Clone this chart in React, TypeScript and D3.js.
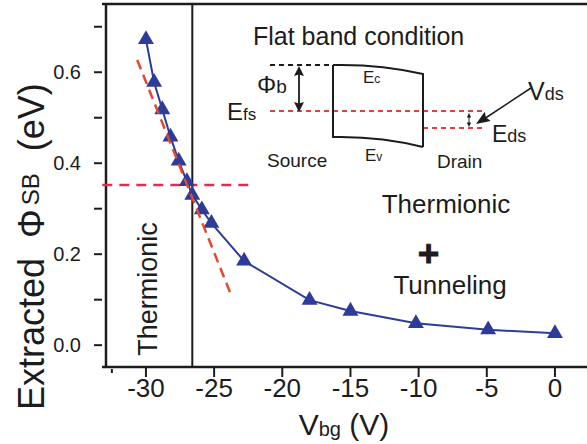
import React from "react";
import * as d3 from "d3";

// Back-gate sweep and extracted Schottky barrier height
const vbg = [-30, -29.4, -28.8, -28.2, -27.6, -27.0, -26.6, -25.9, -25.2, -22.8, -18, -15, -10.2, -4.9, 0];
const phiSB = [0.672, 0.578, 0.518, 0.458, 0.405, 0.36, 0.33, 0.298, 0.268, 0.185, 0.099, 0.075, 0.048, 0.034, 0.026];

// Linear fit in the thermionic regime (endpoints of the dashed guide)
const fitV = [-30.64, -23.71];
const fitPhi = [0.627, 0.107];

// Flat-band point
const flatBandV = -26.6;
const flatBandPhi = 0.352;
const flatBandLineV = [-33.2, -22.0];

const xTicks = [-30, -25, -20, -15, -10, -5, 0];
const xMinorTicks = [-32.5];
const yTicks = [0.0, 0.2, 0.4, 0.6];
const yMinorTicks = [0.1, 0.3, 0.5, 0.7];

const W = 587;
const H = 444;
const FONT = "'Liberation Sans', Arial, Helvetica, sans-serif";
const BLUE = "#2d3c98";
const RED = "#e04040";
const INK = "#1c1c1c";

// Filled arrowhead with its tip at (x2, y2), pointing away from (x1, y1)
function arrowHead(x1: number, y1: number, x2: number, y2: number, len: number, half: number, notch = 0) {
  const a = Math.atan2(y2 - y1, x2 - x1);
  const ux = Math.cos(a);
  const uy = Math.sin(a);
  const bx = x2 - ux * len;
  const by = y2 - uy * len;
  const nx = x2 - ux * (len - notch);
  const ny = y2 - uy * (len - notch);
  return `M${x2},${y2} L${bx - uy * half},${by + ux * half} L${nx},${ny} L${bx + uy * half},${by - ux * half} Z`;
}

export default function App() {
  const x = d3.scaleLinear().domain([-32.93, 2.35]).range([106, 587]);
  const y = d3.scaleLinear().domain([-0.048, 0.75]).range([367, 4]);

  const line = d3
    .line<number>()
    .x((_, i) => x(vbg[i]))
    .y((d) => y(d));

  const tri = d3.symbol().type(d3.symbolTriangle).size(110)();

  const xL = x.range()[0];
  const yB = y.range()[0];
  const yT = y.range()[1];

  return (
    <svg
      width={W}
      height={H}
      viewBox={`0 0 ${W} ${H}`}
      style={{ position: "absolute", left: 0, top: 0, background: "#fff", fontFamily: FONT }}
    >
      {/* frame */}
      <line x1={xL - 4} x2={W} y1={yT} y2={yT} stroke={INK} strokeWidth={2.5} />
      <line x1={xL - 4} x2={W} y1={yB} y2={yB} stroke={INK} strokeWidth={2.5} />
      <line x1={xL} x2={xL} y1={yT} y2={yB} stroke={INK} strokeWidth={2.5} />

      {/* y ticks */}
      {[...yTicks, ...yMinorTicks].map((t) => (
        <line key={`yt${t}`} x1={94} x2={102} y1={y(t)} y2={y(t)} stroke={INK} strokeWidth={2} />
      ))}
      {yTicks.map((t) => (
        <text key={`yl${t}`} x={81} y={y(t)} dy="0.36em" textAnchor="end" fontSize={20} fill={INK}>
          {t.toFixed(1)}
        </text>
      ))}

      {/* x ticks */}
      {xTicks.map((t) => (
        <line key={`xt${t}`} x1={x(t)} x2={x(t)} y1={yB + 1} y2={yB + 10} stroke={INK} strokeWidth={2} />
      ))}
      {xMinorTicks.map((t) => (
        <line key={`xm${t}`} x1={x(t)} x2={x(t)} y1={yB + 2} y2={yB + 6} stroke={INK} strokeWidth={2} />
      ))}
      {xTicks.map((t) => (
        <text key={`xl${t}`} x={x(t)} y={397} textAnchor="middle" fontSize={26} fill={INK}>
          {t === 0 ? "0" : `-${Math.abs(t)}`}
        </text>
      ))}

      {/* axis titles */}
      <text x={344} y={435} textAnchor="middle" fontSize={30} fill={INK}>
        V<tspan fontSize={20} dy={1}>bg</tspan>
        <tspan dy={-1}> (V)</tspan>
      </text>
      <text transform="translate(44,410) rotate(-90)" textAnchor="start" fontSize={36} fill={INK}>
        Extracted<tspan dx={10}> Φ</tspan>
        <tspan fontSize={24} dx={4} dy={-5}>SB</tspan>
        <tspan dx={12} dy={5}> (eV)</tspan>
      </text>

      {/* flat-band guides */}
      <line x1={x(flatBandV)} x2={x(flatBandV)} y1={yT} y2={yB} stroke={INK} strokeWidth={2} />
      <line
        x1={x(flatBandLineV[0])}
        x2={x(flatBandLineV[1])}
        y1={y(flatBandPhi)}
        y2={y(flatBandPhi)}
        stroke="#e03048"
        strokeWidth={2.5}
        strokeDasharray="10 7"
      />

      {/* data */}
      <path d={line(phiSB) ?? ""} fill="none" stroke={BLUE} strokeWidth={2} />
      {phiSB.map((p, i) => (
        <path key={`m${i}`} d={tri ?? ""} transform={`translate(${x(vbg[i])},${y(p)})`} fill={BLUE} />
      ))}

      {/* thermionic fit */}
      <line
        x1={x(fitV[0])}
        x2={x(fitV[1])}
        y1={y(fitPhi[0])}
        y2={y(fitPhi[1])}
        stroke="#e5482e"
        strokeWidth={2.5}
        strokeDasharray="10 6"
      />

      {/* regime labels */}
      <text transform="translate(157,289) rotate(-90)" textAnchor="middle" fontSize={27} fill={INK}>
        Thermionic
      </text>
      <text x={446} y={213} textAnchor="middle" fontSize={26} fill={INK}>
        Thermionic
      </text>
      <text x={428.5} y={266} textAnchor="middle" fontSize={37} fontWeight="bold" fill={INK} stroke={INK} strokeWidth={0.8}>
        +
      </text>
      <text x={450} y={294} textAnchor="middle" fontSize={26} fill={INK}>
        Tunneling
      </text>

      {/* flat band schematic */}
      <g fill={INK}>
        <text x={253} y={45} fontSize={25}>Flat band condition</text>
        <line x1={270} x2={333} y1={65} y2={65} stroke={INK} strokeWidth={2} strokeDasharray="5 4" />
        <line x1={270} x2={483} y1={111} y2={111} stroke={RED} strokeWidth={2} strokeDasharray="5 4" />
        <line x1={423} x2={483} y1={128} y2={128} stroke={RED} strokeWidth={2} strokeDasharray="5 4" />
        <path
          d="M333,65 Q380,64 423,74 L423,147 M333,65 L333,137 Q380,136 423,147"
          fill="none"
          stroke={INK}
          strokeWidth={2}
        />

        {/* barrier height arrow */}
        <line x1={299} x2={299} y1={74} y2={104} stroke={INK} strokeWidth={1.8} />
        <path d={arrowHead(299, 90, 299, 66, 10, 5, 1.5)} />
        <path d={arrowHead(299, 90, 299, 112, 10, 5, 1.5)} />

        {/* drain offset arrow */}
        <line x1={469} x2={469} y1={116} y2={124} stroke={INK} strokeWidth={1} />
        <path d={arrowHead(469, 120, 469, 113, 4.5, 2.2)} />
        <path d={arrowHead(469, 120, 469, 127, 4.5, 2.2)} />

        {/* Vds pointer */}
        <line x1={531} x2={484} y1={88} y2={119} stroke={INK} strokeWidth={1.5} />
        <path d={arrowHead(531, 88, 476, 124, 14, 5.5, 2)} />

        <text x={257} y={93} fontSize={24}>
          Φ<tspan fontSize={19}>b</tspan>
        </text>
        <text x={227} y={120} fontSize={24}>
          E<tspan fontSize={17}>fs</tspan>
        </text>
        <text x={363} y={83} fontSize={17}>
          E<tspan fontSize={12}>c</tspan>
        </text>
        <text x={365} y={161} fontSize={17}>
          E<tspan fontSize={12}>v</tspan>
        </text>
        <text x={528} y={100} fontSize={25}>
          V<tspan fontSize={18}>ds</tspan>
        </text>
        <text x={492} y={142} fontSize={23}>
          E<tspan fontSize={18}>ds</tspan>
        </text>
        <text x={267} y={167} fontSize={19}>Source</text>
        <text x={437} y={168} fontSize={19}>Drain</text>
      </g>
    </svg>
  );
}
